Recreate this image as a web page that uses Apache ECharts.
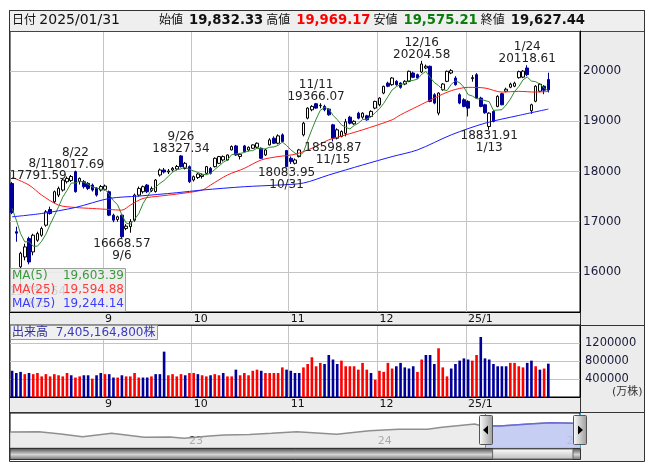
<!DOCTYPE html>
<html><head><meta charset="utf-8">
<script src="https://cdn.jsdelivr.net/npm/echarts/dist/echarts.min.js"></script>
<style>html,body{margin:0;padding:0;background:#fff}#c{width:653px;height:470px}</style>
</head><body><div id="c"></div>
<script>
// ---------- trading days (day numbers per month) ----------
const augDays = [1,2,5,6,7,8,9,12,13,14,15,16,19,20,21,22,23,26,27,28,29,30];
const sepDays = [2,3,4,5,6,9,10,11,12,13,16,17,18,19,20,23,24,25,26,27,30];
const octDays = [1,2,3,4,7,8,9,10,11,14,15,16,17,18,21,22,23,24,25,28,29,30,31];
const novDays = [1,4,5,6,7,8,11,12,13,14,15,18,19,20,21,22,25,26,27,28,29];
const decDays = [2,3,4,5,6,9,10,11,12,13,16,17,18,19,20,23,24,25,26,27,30];
const janDays = [6,7,8,9,10,13,14,15,16,17,20,21,22,23,24,27,28,29,30,31];
const febEmptyDays = [3,4,5,6,7,10,11];   // empty slots at the right edge

// ---------- OHLC ----------
const opens = [
17760,16800,16100,16297,16663,16397,16630,16730,16930,17243,17397,17530,17630,17797,17820,17997,17797,17797,17763,17730,17663,17630,
17643,17597,17130,17043,17130,16863,16900,17030,17530,17597,17730,17620,17600,17930,18030,17990,18030,18050,18310,18063,18097,
17830,17880,17900,17963,18063,18097,18163,18230,18230,18430,18510,18300,18510,18430,18463,18483,18463,18330,18530,18663,18563,18730,18417,
18263,18163,18297,18730,19063,19230,19350,19310,19297,19243,18930,18663,18697,18760,19083,18950,19163,19083,19110,19097,19263,
19330,19563,19760,19730,19797,19763,19743,19797,19963,19930,19983,20063,20097,19530,19163,19630,19797,19963,19863,19530,19430,
19397,19850,19930,19463,19330,18897,19197,19297,19550,19600,19680,19700,19870,19880,20063,19210,19400,19600,19700,19832.33];
const highs = [
17791.59,16900,16400,16560,16700,16760,16800,16900,17230,17300,17620,17700,17850,17900,17930,18017.69,17880,17830,17790,17760,17690,17730,
17740,17620,17160,17120,17150,16950,17050,17560,17700,17720,17750,17700,17850,18060,18070,18050,18090,18130,18327.34,18190,18120,
17920,17970,17960,18110,18090,18280,18310,18320,18340,18520,18530,18370,18530,18500,18540,18580,18480,18450,18663,18700,18740,18760,18430,
18300,18260,18450,18990,19280,19320,19366.07,19360,19330,19260,18950,18860,18820,19050,19110,19020,19190,19180,19130,19220,19410,
19480,19710,19790,19880,19820,19780,19820,20010,19990,19950,20204.58,20130,20110,19560,19580,19760,20010,20040,19900,19560,19460,
19420,19920,19960,19490,19350,19180,19220,19520,19570,19670,19770,19790,20010,20020,20118.61,19350,19720,19760,19720,19969.17];
const lows = [
17150,16600,15730.54,16230,16150,16330,16600,16700,16900,17140,17370,17490,17600,17760,17790,17580,17740,17660,17630,17600,17500,17600,
17620,17110,16990,17000,16668.57,16830,16780,17000,17500,17560,17570,17590,17580,17900,17960,17950,18000,18020,18080,18040,17770,
17800,17850,17860,17940,17940,18080,18150,18200,18220,18420,18310,18240,18380,18400,18450,18470,18250,18310,18520,18550,18540,18580,18083.95,
18150,18140,18280,18700,19040,19200,19250,19260,19200,19110,18598.87,18640,18680,18700,18940,18930,19040,19050,19010,19080,19240,
19300,19540,19680,19710,19710,19650,19720,19780,19860,19840,19960,20040,19380,19340,19120,19610,19780,19940,19710,19340,19280,
19097,19790,19450,19280,19150,18831.91,18980,19280,19320,19580,19660,19680,19850,19860,19900,19150,19380,19580,19540,19575.21];
const closes = [
17180,16770,16370,16497,16197,16730,16763,16863,17197,17163,17597,17663,17830,17863,17900,17597,17863,17697,17663,17630,17530,17700,
17710,17130,17030,17097,16700,16910,17000,17530,17663,17697,17597,17660,17830,18030,17990,18010,18063,18100,18097,18163,17797,
17897,17950,17930,18097,17963,18263,18297,18297,18330,18497,18330,18343,18397,18483,18530,18563,18263,18430,18630,18563,18710,18597,18097,
18197,18230,18430,18963,19263,19297,19263,19320,19230,19130,18663,18830,18797,18990,18963,19000,19063,19163,19030,19197,19397,
19463,19697,19700,19863,19730,19677,19797,19997,19877,19863,20143,20097,19397,19363,19563,19743,19997,20010,19730,19363,19297,
19263,19870,19463,19297,19170,19163,18997,19497,19330,19640,19740,19760,19990,20000,19930,19330,19700,19740,19619.51,19627.44];

// ---------- volume (万株) and its colour (1 = up/red, 0 = down/blue) ----------
const volumes = [
583000,533000,558000,508000,533000,508000,533000,458000,508000,458000,508000,483000,458000,533000,483000,433000,458000,483000,483000,408000,483000,533000,
508000,508000,433000,433000,483000,458000,458000,533000,433000,433000,433000,458000,508000,508000,1008000,483000,508000,458000,508000,483000,533000,
533000,508000,483000,458000,483000,508000,483000,533000,458000,458000,608000,483000,533000,483000,583000,608000,583000,533000,533000,533000,533000,658000,608000,
583000,533000,533000,658000,733000,883000,683000,758000,733000,933000,833000,733000,808000,683000,683000,683000,608000,758000,608000,533000,383000,
583000,558000,758000,633000,683000,758000,658000,633000,683000,558000,833000,933000,933000,733000,1083000,658000,458000,633000,733000,808000,858000,
833000,808000,933000,1333000,858000,833000,733000,683000,683000,683000,758000,758000,683000,658000,758000,808000,683000,608000,633000,740516.48];
const volUp = [
0,0,0,1,0,1,1,1,1,1,1,1,1,1,0,1,1,0,0,1,0,0,
1,0,0,1,0,1,1,1,1,0,0,1,0,0,0,1,1,1,1,0,1,
1,0,1,1,0,1,1,0,1,1,0,1,1,1,1,1,0,1,1,1,1,1,0,
0,0,0,1,1,1,1,1,0,0,0,0,1,1,1,1,1,1,1,0,1,
1,1,1,1,0,0,0,0,0,1,1,0,0,0,1,1,1,0,0,0,0,
0,1,1,0,0,0,0,0,0,0,1,1,1,1,0,0,1,0,1,0];

// ---------- moving averages ----------
const ma5Head = [17263,17030,16763,16597];           // MA5 before 5 closes are on screen
const ma25Idx = [0,4,7,11,15,19,23,26,28,31,35,39,45,47,51,55,59,63,67,71,75,79,83,90,92,96,100,104,108,112,116,120,124,127];
const ma25Val = [17883,17730,17530,17330,17283,17263,17243,17230,17330,17463,17510,17550,17630,17730,17930,18063,18230,18297,18343,18463,18630,18730,18830,19030,19130,19297,19463,19610,19677,19663,19583,19597,19583,19594.88];
const ma75Idx = [0,7,15,23,30,39,45,55,63,69,75,83,90,96,104,112,120,127];
const ma75Val = [17097,17163,17283,17463,17510,17577,17630,17697,17730,17770,17930,18130,18297,18430,18730,18963,19117,19244.14];

// ---------- high / low annotations (candle indices) ----------
const highMarkIdx = [0,15,40,72,97,122];
const lowMarkIdx = [2,26,65,76,113];

// ---------- axis ticks ----------
const tickMonths = ['2024/09','2024/10','2024/11','2024/12','2025/01'];
const tickLabels = ['9','10','11','12','25/1'];
const priceLevels = [16000,17000,18000,19000,20000];
const volLevels = [400000,800000,1200000];

// ---------- long-term overview (weekly index, value) ----------
const ovStart = '2022/01/28';
const ovWeeks = 158;
const ovIdx = [0,8,14,20,28,37,44,48,55,59,66,72,79,90,99,107,115,119,128,130,131,135,143,149,155,157];
const ovVal = [12800,13040,11200,9040,11760,8560,8800,7760,9600,10400,10800,11760,13040,10960,13840,14960,14960,16560,19200,17600,17600,17600,19200,20240,19760,19627];

// =================================================================
const FONT = "'DejaVu Sans', 'Noto Sans CJK JP', sans-serif";
const GRIDC = '#c4c4c4';
const NAVY = '#000099';
const RED = '#ff0000';
const pad = n => String(n).padStart(2,'0');

const dates = [];
[['2024/08',augDays],['2024/09',sepDays],['2024/10',octDays],['2024/11',novDays],['2024/12',decDays],['2025/01',janDays]]
  .forEach(([ym, ds]) => ds.forEach(d => dates.push(ym + '/' + pad(d))));
const axisDates = dates.concat(febEmptyDays.map(d => '2025/02/' + pad(d)));
const n = dates.length;

const isMonthStart = i => i > 0 && i < n && axisDates[i].slice(0,7) !== axisDates[i-1].slice(0,7) && tickMonths.indexOf(axisDates[i].slice(0,7)) >= 0;
const monthLabel = v => { const k = tickMonths.indexOf(v.slice(0,7)); return k >= 0 ? tickLabels[k] : ''; };
const md = s => Number(s.slice(5,7)) + '/' + Number(s.slice(8,10));

const ma5 = closes.map((c, i) => i < 4 ? ma5Head[i] : +((closes[i]+closes[i-1]+closes[i-2]+closes[i-3]+closes[i-4])/5).toFixed(2));

// overview weekly dates
const ovDates = [];
{ const [y,m,d] = ovStart.split('/').map(Number); const t0 = Date.UTC(y, m-1, d);
  for (let k = 0; k < ovWeeks; k++) { const t = new Date(t0 + k*7*86400000);
    ovDates.push(t.getUTCFullYear() + '/' + pad(t.getUTCMonth()+1) + '/' + pad(t.getUTCDate())); } }
const selStart = ovDates.findIndex(s => s >= dates[0]);
const ovData = ovIdx.map((k, j) => [k, ovVal[j]]);
const ovSel = ovData.filter(p => p[0] >= selStart);

const fmt2 = v => v.toLocaleString('en-US', {minimumFractionDigits: 2, maximumFractionDigits: 2});

function xAxisFor(gi) {
  return {
    type: 'category', gridIndex: gi, data: axisDates, boundaryGap: true,
    axisLine: {show: true, onZero: false, lineStyle: {color: '#000', width: 1}},
    axisTick: {show: false},
    axisLabel: {show: true, interval: (i) => isMonthStart(i), formatter: (v) => monthLabel(v),
      align: 'left', margin: 2, fontSize: 11, color: '#111', fontFamily: FONT},
    splitLine: {show: true, interval: (i) => isMonthStart(i), lineStyle: {color: GRIDC, width: 1}}
  };
}

const labelOffsets = {0: 26, 2: 17};
const markData = [];
highMarkIdx.forEach(i => markData.push({
  coord: [i, highs[i]], value: highs[i], symbolSize: 0,
  label: {position: 'top', distance: 0, offset: [labelOffsets[i] || 0, 0],
    formatter: () => md(dates[i]) + '\n' + highs[i].toFixed(2)}
}));
lowMarkIdx.forEach(i => markData.push({
  coord: [i, lows[i]], value: lows[i], symbolSize: 0,
  label: {position: 'bottom', distance: 0, offset: [labelOffsets[i] || 0, 0],
    formatter: () => lows[i].toFixed(2) + '\n' + md(dates[i])}
}));

const gridBase = {show: true, backgroundColor: '#fff', borderColor: '#000', borderWidth: 1, containLabel: false, outerBoundsMode: 'none'};

const option = {
  animation: false,
  backgroundColor: '#fff',
  textStyle: {fontFamily: FONT},
  grid: [
    Object.assign({left: 10, top: 31, width: 570, height: 281}, gridBase),
    Object.assign({left: 10, top: 325, width: 570, height: 72}, gridBase),
    Object.assign({left: 10, top: 413, width: 570, height: 35}, gridBase)
  ],
  xAxis: [
    xAxisFor(0),
    xAxisFor(1),
    {type: 'category', gridIndex: 2, data: ovDates, boundaryGap: false,
      axisLine: {show: false}, axisTick: {show: false}, splitLine: {show: false},
      axisLabel: {show: true, inside: true, margin: 1, fontSize: 11, color: '#222', fontFamily: FONT,
        align: 'left', backgroundColor: '#fff', padding: [0, 1, 0, 1],
        interval: (i, v) => i > 0 && v.slice(0,4) !== ovDates[i-1].slice(0,4),
        formatter: (v) => v.slice(2,4)}}
  ],
  yAxis: [
    {type: 'value', gridIndex: 0, position: 'right', min: 15200, max: 20800, splitNumber: 5,
      axisLine: {show: true, lineStyle: {color: '#000'}}, axisTick: {show: false},
      axisLabel: {customValues: priceLevels, formatter: v => String(v), margin: 3, fontSize: 12, color: '#1a1a3a', fontFamily: FONT},
      splitLine: {show: true, lineStyle: {color: GRIDC, width: 1}}},
    {type: 'value', gridIndex: 1, position: 'right', min: 0, max: 1600000, interval: 400000,
      axisLine: {show: true, lineStyle: {color: '#000'}}, axisTick: {show: false},
      axisLabel: {customValues: volLevels, formatter: v => String(v), margin: 5, fontSize: 11.5, color: '#1a1a3a', fontFamily: FONT},
      splitLine: {show: true, lineStyle: {color: GRIDC, width: 1}}},
    {type: 'value', gridIndex: 2, min: 0, max: 28000, show: false, splitLine: {show: false}}
  ],
  series: [
    {type: 'candlestick', name: 'price', xAxisIndex: 0, yAxisIndex: 0, barWidth: '72%', z: 2,
      data: dates.map((_, i) => [opens[i], closes[i], lows[i], highs[i]]),
      itemStyle: {color: '#ffffff', color0: NAVY, borderColor: '#000000', borderColor0: NAVY, borderWidth: 1},
      markPoint: {symbol: 'circle', symbolSize: 0, silent: true, animation: false,
        label: {show: true, color: '#222', fontSize: 12, lineHeight: 12, fontFamily: FONT},
        data: markData}},
    {type: 'line', name: 'MA(5)', xAxisIndex: 0, yAxisIndex: 0, data: ma5, showSymbol: false, z: 3,
      lineStyle: {color: '#2e8b2e', width: 1}},
    {type: 'line', name: 'MA(25)', xAxisIndex: 0, yAxisIndex: 0, data: ma25Idx.map((k, j) => [k, ma25Val[j]]),
      showSymbol: false, smooth: 0.3, z: 3, lineStyle: {color: '#ff1a1a', width: 1}},
    {type: 'line', name: 'MA(75)', xAxisIndex: 0, yAxisIndex: 0, data: ma75Idx.map((k, j) => [k, ma75Val[j]]),
      showSymbol: false, smooth: 0.3, z: 3, lineStyle: {color: '#1a1aff', width: 1}},
    {type: 'bar', name: 'volume', xAxisIndex: 1, yAxisIndex: 1, barWidth: '62%', z: 2,
      data: volumes.map((v, i) => ({value: v, itemStyle: {color: volUp[i] ? RED : NAVY}}))},
    {type: 'line', name: 'overview', xAxisIndex: 2, yAxisIndex: 2, data: ovData, showSymbol: false,
      lineStyle: {color: '#8f8f8f', width: 1.5}, areaStyle: {color: '#e4e4e4', origin: 'start'}, z: 2},
    {type: 'line', name: 'selected', xAxisIndex: 2, yAxisIndex: 2, data: ovSel, showSymbol: false,
      lineStyle: {color: '#6a6ad8', width: 1.5}, areaStyle: {color: '#b6c3f6', origin: 'start'}, z: 3,
      markLine: {silent: true, symbol: 'none', label: {show: false}, animation: false,
        lineStyle: {color: '#2aa8e0', width: 1, type: 'solid'},
        data: [{xAxis: selStart}, {xAxis: ovWeeks - 1}]}}
  ]
};

const chart = echarts.init(document.getElementById('c'));
chart.setOption(option);

const lx = chart.convertToPixel({xAxisIndex: 2}, selStart);
const rx = chart.convertToPixel({xAxisIndex: 2}, ovWeeks - 1);
const last = n - 1;

const g = [];
// panels & bands
g.push({type: 'rect', z: 0, silent: true, shape: {x: 580.5, y: 31.5, width: 64, height: 430}, style: {fill: '#ececec'}});
g.push({type: 'rect', z: 0, silent: true, shape: {x: 9.5, y: 312.5, width: 571, height: 12.5}, style: {fill: '#ececec', stroke: '#333'}});
g.push({type: 'rect', z: 0, silent: true, shape: {x: 9.5, y: 397.5, width: 571, height: 15}, style: {fill: '#ececec', stroke: '#333'}});
g.push({type: 'rect', z: 0, silent: true, shape: {x: 9.5, y: 10.5, width: 635, height: 21}, style: {fill: '#efefef', stroke: '#444'}});
g.push({type: 'line', z: 1, silent: true, shape: {x1: 9.5, y1: 325.5, x2: 644.5, y2: 325.5}, style: {stroke: '#333'}});
g.push({type: 'line', z: 1, silent: true, shape: {x1: 9.5, y1: 412.5, x2: 644.5, y2: 412.5}, style: {stroke: '#333'}});
g.push({type: 'rect', z: 1, silent: true, shape: {x: 9.5, y: 10.5, width: 635, height: 451}, style: {fill: null, stroke: '#333'}});

// header
g.push({type: 'text', z: 5, silent: true, x: 12, y: 20.5, style: {
  text: '{a|日付} {d|' + dates[last] + '}', verticalAlign: 'middle',
  rich: {a: {fontSize: 12, fontFamily: FONT, fill: '#111'}, d: {fontSize: 14, fontFamily: FONT, fill: '#111'}}}});
g.push({type: 'text', z: 5, silent: true, x: 159, y: 20.5, style: {
  text: '{l|始値}{v|' + fmt2(opens[last]) + '}{l|高値}{r|' + fmt2(highs[last]) + '}{l|安値}{g|' + fmt2(lows[last]) + '}{l|終値}{w|' + fmt2(closes[last]) + '}',
  verticalAlign: 'middle',
  rich: {
    l: {fontSize: 12, fontFamily: FONT, fill: '#111', padding: [0, 6, 0, 0]},
    v: {fontSize: 13.2, fontWeight: 'bold', fontFamily: FONT, fill: '#111', padding: [0, 3, 0, 0]},
    r: {fontSize: 13.2, fontWeight: 'bold', fontFamily: FONT, fill: '#ff0000', padding: [0, 3, 0, 0]},
    g: {fontSize: 13.2, fontWeight: 'bold', fontFamily: FONT, fill: '#0a7d0a', padding: [0, 3, 0, 0]},
    w: {fontSize: 13.2, fontWeight: 'bold', fontFamily: FONT, fill: '#111'}}}});

// MA legend box
g.push({type: 'rect', z: 50, silent: true, shape: {x: 10.5, y: 268.5, width: 115, height: 43}, style: {fill: 'rgba(236,236,236,0.88)', stroke: '#a0a0a0'}});
const maRows = [['MA(5)', ma5[last], '#3a9a3a'], ['MA(25)', ma25Val[ma25Val.length-1], '#ff3b3b'], ['MA(75)', ma75Val[ma75Val.length-1], '#3c3cff']];
maRows.forEach(([name, val, col], r) => {
  g.push({type: 'text', z: 51, silent: true, x: 12, y: 276 + r*14, style: {text: name, fill: col, fontSize: 12, fontFamily: FONT, verticalAlign: 'middle'}});
  g.push({type: 'text', z: 51, silent: true, x: 124, y: 276 + r*14, style: {text: fmt2(val), fill: col, fontSize: 12, fontFamily: FONT, verticalAlign: 'middle', align: 'right'}});
});

// volume label box
g.push({type: 'rect', z: 50, silent: true, shape: {x: 10.5, y: 325.5, width: 147, height: 14}, style: {fill: 'rgba(238,238,238,0.9)', stroke: '#9a9a9a'}});
g.push({type: 'text', z: 51, silent: true, x: 12, y: 333, style: {
  text: '{a|出来高}{b|  ' + Math.round(volumes[last] * 10000).toLocaleString('en-US') + '株}', verticalAlign: 'middle',
  rich: {a: {fontSize: 12, fontFamily: FONT, fill: '#2e2e9a'}, b: {fontSize: 12, fontFamily: FONT, fill: '#3a3ac0'}}}});
g.push({type: 'text', z: 5, silent: true, x: 612, y: 392, style: {text: '(万株)', fill: '#333', fontSize: 11, fontFamily: FONT, verticalAlign: 'middle'}});

// scrollbar under the overview
g.push({type: 'rect', z: 5, silent: true, shape: {x: 10, y: 448.5, width: 570.5, height: 11},
  style: {fill: {type: 'linear', x: 0, y: 0, x2: 0, y2: 1, colorStops: [{offset: 0, color: '#4a4a4a'}, {offset: 0.55, color: '#d6d6d6'}, {offset: 1, color: '#6a6a6a'}]}, stroke: '#333'}});
g.push({type: 'rect', z: 6, silent: true, shape: {x: lx + 7, y: 449, width: rx - lx - 14, height: 10},
  style: {fill: {type: 'linear', x: 0, y: 0, x2: 0, y2: 1, colorStops: [{offset: 0, color: '#ffffff'}, {offset: 1, color: '#bcbcbc'}]}, stroke: '#666'}});
// handles
[[lx, -1], [rx, 1]].forEach(([hx, dir]) => {
  g.push({type: 'rect', z: 60, silent: true, shape: {x: Math.round(hx) - 6.5, y: 415.5, width: 13, height: 29, r: 1},
    style: {fill: {type: 'linear', x: 0, y: 0, x2: 1, y2: 0, colorStops: [{offset: 0, color: '#ffffff'}, {offset: 1, color: '#9a9a9a'}]}, stroke: '#555'}});
  const cx = Math.round(hx);
  g.push({type: 'polygon', z: 61, silent: true, shape: {points: [[cx + dir*3, 430], [cx - dir*2, 425.5], [cx - dir*2, 434.5]]}, style: {fill: '#000'}});
});

chart.setOption({graphic: {elements: g}});
</script>
</body></html>
